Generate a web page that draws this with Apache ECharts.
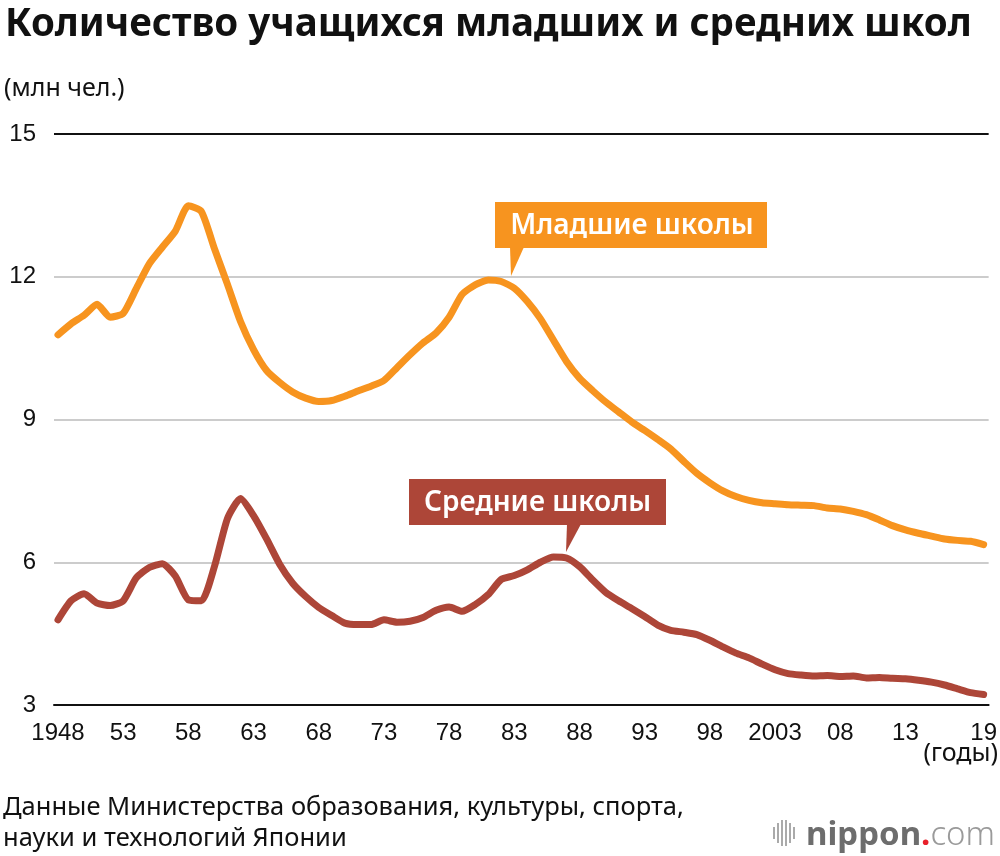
<!DOCTYPE html>
<html>
<head>
<meta charset="utf-8">
<script src="https://cdn.jsdelivr.net/npm/echarts@6/dist/echarts.min.js"></script>
<style>
html,body{margin:0;padding:0;background:#fff;}
#chart{width:1000px;height:856px;}
</style>
</head>
<body>
<div id="chart"></div>
<script>
const years = [];
for (let y = 1948; y <= 2019; y++) years.push(y);

const elementary = [10.78, 11.01, 11.19, 11.42, 11.15, 11.23, 11.75, 12.27, 12.62, 12.96,
  13.49, 13.37, 12.59, 11.84, 11.06, 10.47, 10.03, 9.78, 9.58, 9.45,
  9.38, 9.40, 9.49, 9.60, 9.70, 9.82, 10.09, 10.36, 10.61, 10.82,
  11.15, 11.63, 11.83, 11.93, 11.90, 11.76, 11.48, 11.12, 10.67, 10.22,
  9.87, 9.61, 9.37, 9.16, 8.95, 8.77, 8.58, 8.38, 8.12, 7.87,
  7.67, 7.50, 7.38, 7.30, 7.25, 7.23, 7.21, 7.20, 7.19, 7.14,
  7.12, 7.07, 7.00, 6.89, 6.77, 6.68, 6.61, 6.55, 6.49, 6.46,
  6.44, 6.37];

const juniorHigh = [4.79, 5.19, 5.34, 5.14, 5.09, 5.19, 5.67, 5.89, 5.97, 5.71,
  5.21, 5.19, 5.91, 6.92, 7.34, 6.98, 6.49, 5.96, 5.56, 5.28,
  5.05, 4.88, 4.72, 4.69, 4.69, 4.79, 4.74, 4.76, 4.84, 4.99,
  5.06, 4.97, 5.11, 5.32, 5.64, 5.72, 5.84, 6.00, 6.11, 6.09,
  5.91, 5.63, 5.37, 5.19, 5.03, 4.86, 4.68, 4.57, 4.53, 4.48,
  4.36, 4.22, 4.09, 3.99, 3.86, 3.74, 3.66, 3.63, 3.61, 3.62,
  3.60, 3.61, 3.57, 3.58, 3.56, 3.55, 3.52, 3.48, 3.42, 3.34,
  3.26, 3.22];

const tickYears = [1948, 1953, 1958, 1963, 1968, 1973, 1978, 1983, 1988, 1993, 1998, 2003, 2008, 2013, 2019];
const tickLabels = ['1948', '53', '58', '63', '68', '73', '78', '83', '88', '93', '98', '2003', '08', '13', '19'];

const yTicks = [3, 6, 9, 12, 15];

const ORANGE = '#F7941F';
const RED = '#AD4638';
const SANS = '"Noto Sans", "Open Sans", sans-serif';
const NUM = '"Liberation Sans", Arial, sans-serif';

const chart = echarts.init(document.getElementById('chart'), null, {renderer: 'canvas'});

const pairsE = years.map((y, i) => [y, elementary[i]]);
const pairsJ = years.map((y, i) => [y, juniorHigh[i]]);

chart.setOption({
  backgroundColor: '#fff',
  animation: false,
  grid: {left: 54, right: 10, top: 134, bottom: 151, containLabel: false},
  xAxis: {
    type: 'value',
    min: 1947.694,
    max: 2019.383,
    axisLine: {show: true, onZero: false, lineStyle: {color: '#111', width: 2}},
    axisTick: {show: false},
    splitLine: {show: false},
    axisLabel: {
      customValues: tickYears,
      margin: 16,
      fontFamily: NUM,
      fontSize: 24,
      color: '#111',
      formatter: function (v) {
        const i = tickYears.indexOf(Math.round(v));
        return i >= 0 ? tickLabels[i] : '';
      }
    }
  },
  yAxis: {
    type: 'value',
    min: yTicks[0],
    max: yTicks[yTicks.length - 1],
    interval: 3,
    axisLine: {show: false},
    axisTick: {show: false},
    axisLabel: {
      margin: 18,
      fontFamily: NUM,
      fontSize: 24,
      color: '#111'
    },
    splitLine: {
      show: true,
      lineStyle: {color: ['#111', '#cccccc', '#cccccc', '#cccccc', '#111'], width: 2}
    }
  },
  series: [
    {
      name: 'Младшие школы',
      type: 'line',
      data: pairsE,
      showSymbol: false,
      symbol: 'none',
      smooth: 0.2,
      lineStyle: {color: ORANGE, width: 7, cap: 'round', join: 'round'},
      z: 3
    },
    {
      name: 'Средние школы',
      type: 'line',
      data: pairsJ,
      showSymbol: false,
      symbol: 'none',
      smooth: 0.2,
      lineStyle: {color: RED, width: 7, cap: 'round', join: 'round'},
      z: 3
    }
  ],
  graphic: [
    {type: 'text', left: 5, top: 6, style: {text: 'Количество учащихся младших и средних школ', font: 'bold 38.5px ' + SANS, fill: '#111'}},
    {type: 'text', left: 4, top: 76, style: {text: '(млн чел.)', font: '25px ' + SANS, fill: '#111'}},
    {type: 'text', right: 2, top: 741, style: {text: '(годы)', font: '25px ' + SANS, fill: '#111', textAlign: 'right'}},
    {type: 'text', left: 3, top: 792, style: {text: 'Данные Министерства образования, культуры, спорта,\nнауки и технологий Японии', font: '25.5px ' + SANS, fill: '#111', lineHeight: 31}},
    // callout: elementary
    {type: 'group', z: 10, children: [
      {type: 'rect', shape: {x: 495, y: 202, width: 272, height: 46}, style: {fill: ORANGE}},
      {type: 'polygon', shape: {points: [[510, 247], [524, 247], [511, 276]]}, style: {fill: ORANGE}},
      {type: 'text', x: 632, y: 226, style: {text: 'Младшие школы', font: '600 28px ' + SANS, fill: '#fff', textAlign: 'center', textVerticalAlign: 'middle'}}
    ]},
    // callout: junior high
    {type: 'group', z: 10, children: [
      {type: 'rect', shape: {x: 409, y: 479, width: 257, height: 46}, style: {fill: RED}},
      {type: 'polygon', shape: {points: [[567, 524], [581, 524], [566, 552]]}, style: {fill: RED}},
      {type: 'text', x: 537.5, y: 503, style: {text: 'Средние школы', font: '600 28px ' + SANS, fill: '#fff', textAlign: 'center', textVerticalAlign: 'middle'}}
    ]},
    // logo
    {type: 'group', z: 10, children: [
      {type: 'rect', shape: {x: 773, y: 827, width: 2, height: 12}, style: {fill: '#aaa'}},
      {type: 'rect', shape: {x: 777, y: 823, width: 2, height: 20}, style: {fill: '#aaa'}},
      {type: 'rect', shape: {x: 781, y: 820, width: 2, height: 26}, style: {fill: '#aaa'}},
      {type: 'rect', shape: {x: 785, y: 820, width: 2, height: 26}, style: {fill: '#aaa'}},
      {type: 'rect', shape: {x: 789, y: 823, width: 2, height: 20}, style: {fill: '#aaa'}},
      {type: 'rect', shape: {x: 793, y: 827, width: 2, height: 12}, style: {fill: '#aaa'}},
      {type: 'text', x: 806, y: 852, style: {
        text: '{a|nippon}{b|.}{c|com}', textVerticalAlign: 'bottom',
        rich: {
          a: {font: 'bold 33px ' + SANS, fill: '#6d6d6d'},
          b: {font: 'bold 33px ' + SANS, fill: '#e8202a'},
          c: {font: '300 33px ' + SANS, fill: '#9a9a9a'}
        }
      }}
    ]}
  ]
});
</script>
</body>
</html>
